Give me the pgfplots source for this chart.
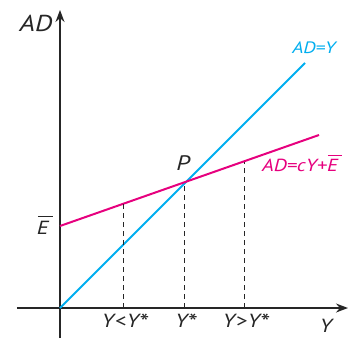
\documentclass[border=0pt]{standalone}
\usepackage{pgfplots}
\pgfplotsset{compat=1.18}
\usepackage{fontspec}
\setmainfont{PT Sans}[FakeStretch=1.2]
\usetikzlibrary{arrows.meta}
\definecolor{cyanl}{RGB}{0,174,239}
\definecolor{mag}{RGB}{230,0,126}
\newcommand\ebar[1]{\leavevmode\vbox{\offinterlineskip\hbox{\kern#1\rule{0.8em}{0.05em}}\kern0.2em\hbox{E}}}
\newcommand\myast{\raisebox{-0.2em}{\fontsize{23}{23}\selectfont*}}
\begin{document}
\begin{tikzpicture}
\path[use as bounding box] (-60pt,-30pt) rectangle (295pt,308pt);
\begin{axis}[
  anchor=origin, at={(0pt,0pt)},
  x=1pt, y=1pt, disabledatascaling,
  axis lines=middle,
  axis line style={line width=1.6pt, black!85, -{Stealth[length=12pt,width=9pt]}},
  xmin=-43, xmax=288, ymin=-30, ymax=298,
  xtick={63,124,184},
  xticklabels={Y\kern1pt<\kern1pt Y\myast, Y\myast, Y\kern1pt>\kern1pt Y\myast},
  ytick=\empty,
  major tick length=0pt,
  clip=false,
  xticklabel style={font=\itshape\fontsize{19}{21}\selectfont, text=black!85, anchor=base, yshift=-19pt, xshift=2pt},
]
\addplot[cyanl, line width=2pt] coordinates {(0,0) (245,245)};
\addplot[mag, line width=2pt] coordinates {(0,82) (259,173)};
\addplot[black!85, dash pattern=on 5pt off 4pt, line width=1pt] coordinates {(63,0) (63,104)};
\addplot[black!85, dash pattern=on 5pt off 4pt, line width=1pt] coordinates {(124,0) (124,125)};
\addplot[black!85, dash pattern=on 5pt off 4pt, line width=1pt] coordinates {(184,0) (184,146)};
\node[font=\itshape\fontsize{23}{26}\selectfont, text=black!85] at (axis cs:-24,285) {AD};
\node[font=\itshape\fontsize{19}{24}\selectfont, text=black!85] at (axis cs:-15,83) {\ebar{0.05em}};
\node[font=\itshape\fontsize{21}{24}\selectfont, text=black!85] at (axis cs:123,145) {P};
\node[font=\itshape\fontsize{19}{22}\selectfont, text=black!85] at (axis cs:266,-18) {Y};
\node[font=\itshape\fontsize{16.5}{20}\selectfont, text=cyanl] at (axis cs:254,260) {AD=Y};
\node[font=\itshape\fontsize{17.5}{20}\selectfont, text=mag] at (axis cs:242,145) {AD=cY+\ebar{0.05em}};
\end{axis}
\end{tikzpicture}
\end{document}
